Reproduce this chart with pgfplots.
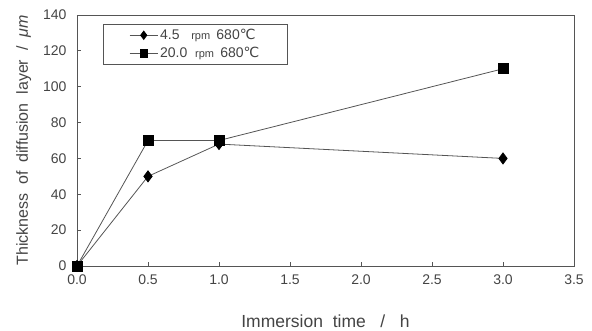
\documentclass[border=0pt]{standalone}
\usepackage{pgfplots}
\pgfplotsset{compat=1.18}
\usepackage{fontspec}
\setmainfont{Liberation Sans}
\newfontfamily\symfont{DejaVu Sans}
\usetikzlibrary{calc}
\definecolor{txt}{HTML}{444444}
\definecolor{ln}{HTML}{555555}
\begin{document}
\begin{tikzpicture}
\begin{axis}[
  name=ax,
  at={(0,0)}, anchor=south west,
  scale only axis,
  width=497pt, height=251pt,
  xmin=0, xmax=3.5, ymin=0, ymax=140,
  xtick={0,0.5,...,3.5},
  ytick={0,20,...,140},
  xticklabel style={yshift=-5pt, /pgf/number format/.cd,fixed,fixed zerofill,precision=1},
  /pgf/number format/assume math mode=true,
  tick align=inside,
  major tick length=4pt,
  xtick pos=bottom, ytick pos=left,
  axis line style={ln, line width=0.9pt},
  tick style={ln, line width=0.8pt},
  ticklabel style={font=\fontsize{14}{16}\selectfont, text=txt},
  yticklabel style={xshift=-7pt},
  xlabel={Immersion \ time \ \ / \ \ h},
  ylabel={Thickness \ of \ diffusion \ layer \ / \ \textit{μm}},
  label style={text=txt},
  xlabel style={font=\fontsize{17.5}{19}\selectfont, yshift=-24pt},
  ylabel style={font=\fontsize{16}{18}\selectfont, yshift=5pt},
  legend style={at={(26pt,242pt)}, anchor=north west, draw=ln, line width=0.7pt,
    font=\fontsize{14}{16}\selectfont, text=txt, inner xsep=26pt, inner ysep=3pt,
    row sep=2pt, cells={anchor=west}},
  legend image code/.code={
    \draw[mark repeat=2, mark phase=2, #1, every mark/.append style={scale=0.75}] plot coordinates {(0pt,0pt) (14pt,0pt) (28pt,0pt)};},
]
\addplot[color=ln, line width=0.8pt, mark=diamond*, mark size=5.5pt, mark options={fill=black, draw=black}]
  coordinates {(0,0) (0.5,50) (1,68) (3,60)};
\addlegendentry{4.5 \ \ {\fontsize{11}{12}\selectfont rpm} \,680{\symfont ℃}\ \ }
\addplot[color=ln, line width=0.8pt, mark=square*, mark size=5pt, mark options={fill=black, draw=black}]
  coordinates {(0,0) (0.5,70) (1,70) (3,110)};
\addlegendentry{20.0 \ {\fontsize{11}{12}\selectfont rpm} \,680{\symfont ℃}}
\end{axis}
\pgfresetboundingbox
\path[use as bounding box] ($(ax.south west)+(-77pt,-65pt)$) rectangle ($(ax.north east)+(18pt,15pt)$);
\end{tikzpicture}
\end{document}
